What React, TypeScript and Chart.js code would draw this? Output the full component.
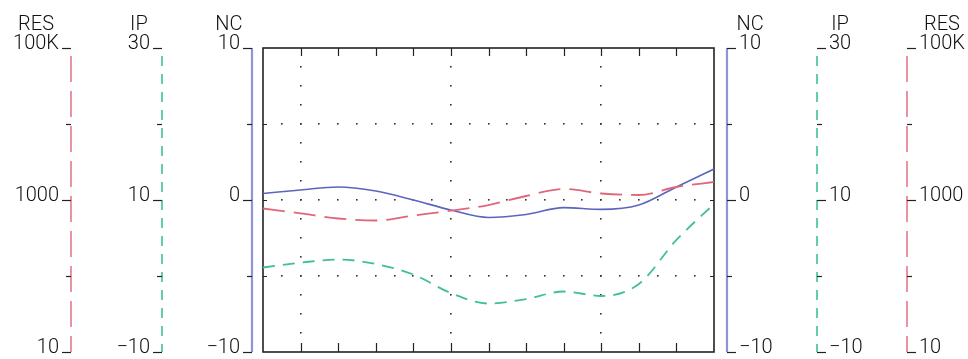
import React, { useEffect, useRef } from 'react';
import { Chart, registerables } from 'chart.js';

Chart.register(...registerables);

// Station positions along the profile (tick marks along the top/bottom border)
const stations = [0, 1, 2, 3, 4, 5, 6, 7, 8, 9, 10, 11, 12];
const gridStations = [1, 5, 9];

// Series values
const ncValues = [0.43, 0.66, 0.86, 0.59, 0.0, -0.66, -1.15, -0.95, -0.5, -0.62, -0.33, 0.86, 2.04];
const resValues = [773, 668, 571, 537, 625, 723, 859, 1129, 1396, 1218, 1164, 1483, 1726];
const ipValues = [1.12, 1.75, 2.17, 1.58, 0.2, -2.24, -3.62, -3.03, -2.04, -2.63, -1.05, 4.74, 9.47];

// Axis ticks and labels
const resTicks = [10, 100, 1000, 10000, 100000];
const resTickLabels = ['10', '', '1000', '', '100K'];
const ipTicks = [-10, 0, 10, 20, 30];
const ipTickLabels = ['\u221210', '', '10', '', '30'];
const ncTicks = [-10, -5, 0, 5, 10];
const ncTickLabels = ['\u221210', '', '0', '', '10'];
const ncGridValues = [-5, 0, 5];

const RES_COLOR = '#e0677a';
const IP_COLOR = '#3fc28e';
const NC_COLOR = '#5a66bd';
const NC_AXIS_COLOR = '#8e94d4';
const FONT = '300 20px Roboto, "Liberation Sans", Arial, sans-serif';

type SideAxis = {
  x: number;
  side: 'left' | 'right';
  scaleId: string;
  ticks: number[];
  labels: string[];
  title: string;
  color: string;
  dash: number[];
  width: number;
};

const sideAxes: SideAxis[] = [
  { x: 71, side: 'left', scaleId: 'yRes', ticks: resTicks, labels: resTickLabels, title: 'RES', color: RES_COLOR, dash: [26, 9], width: 1.4 },
  { x: 162, side: 'left', scaleId: 'yIp', ticks: ipTicks, labels: ipTickLabels, title: 'IP', color: IP_COLOR, dash: [10, 8], width: 1.6 },
  { x: 252, side: 'left', scaleId: 'yNc', ticks: ncTicks, labels: ncTickLabels, title: 'NC', color: NC_AXIS_COLOR, dash: [], width: 2.2 },
  { x: 727, side: 'right', scaleId: 'yNc', ticks: ncTicks, labels: ncTickLabels, title: 'NC', color: NC_AXIS_COLOR, dash: [], width: 2.2 },
  { x: 817, side: 'right', scaleId: 'yIp', ticks: ipTicks, labels: ipTickLabels, title: 'IP', color: IP_COLOR, dash: [10, 8], width: 1.6 },
  { x: 907, side: 'right', scaleId: 'yRes', ticks: resTicks, labels: resTickLabels, title: 'RES', color: RES_COLOR, dash: [26, 9], width: 1.4 },
];

function drawSideAxis(chart: any, a: SideAxis) {
  const ctx: CanvasRenderingContext2D = chart.ctx;
  const scale = chart.scales[a.scaleId];
  const { top, bottom } = chart.chartArea;
  const dir = a.side === 'left' ? -1 : 1;
  ctx.save();
  ctx.strokeStyle = a.color;
  ctx.lineWidth = a.width;
  ctx.setLineDash(a.dash);
  ctx.lineDashOffset = a.dash.length ? -8 : 0;
  ctx.beginPath();
  ctx.moveTo(a.x, top);
  ctx.lineTo(a.x, bottom);
  ctx.stroke();
  ctx.setLineDash([]);

  ctx.strokeStyle = '#222';
  ctx.lineWidth = 1.2;
  ctx.fillStyle = '#111';
  ctx.font = FONT;
  let titleX = a.x;
  a.ticks.forEach((t, i) => {
    const y = Math.round(scale.getPixelForValue(t)) + 0.5;
    const lab = a.labels[i];
    const len = lab ? 9 : 5;
    ctx.beginPath();
    ctx.moveTo(a.x, y);
    ctx.lineTo(a.x + dir * len, y);
    ctx.stroke();
    if (lab) {
      ctx.textAlign = a.side === 'left' ? 'right' : 'left';
      ctx.textBaseline = 'alphabetic';
      const tx = a.x + dir * 12;
      ctx.fillText(lab, tx, y + 0.5);
      if (i === a.ticks.length - 1) {
        const w = ctx.measureText(lab).width;
        titleX = a.side === 'left' ? tx - w / 2 : tx + w / 2;
      }
    }
  });
  ctx.textAlign = 'center';
  ctx.textBaseline = 'alphabetic';
  ctx.fillText(a.title, titleX, top - 18);
  ctx.restore();
}

const framePlugin = {
  id: 'frame',
  beforeDatasetsDraw(chart: any) {
    const ctx: CanvasRenderingContext2D = chart.ctx;
    const { left, right, top, bottom } = chart.chartArea;
    const xs = chart.scales.x;
    const yNc = chart.scales.yNc;
    ctx.save();
    ctx.fillStyle = '#333';
    // horizontal dotted grid lines
    ncGridValues.forEach((v) => {
      const y = Math.round(yNc.getPixelForValue(v));
      for (let j = 1; j < stations.length * 2 - 2; j++) {
        const x = Math.round(xs.getPixelForValue(j / 2));
        ctx.fillRect(x - 1, y - 1, 1.6, 1.6);
      }
    });
    // vertical dotted grid lines
    gridStations.forEach((s) => {
      const x = Math.round(xs.getPixelForValue(s));
      for (let j = 1; j < 16; j++) {
        const y = Math.round(yNc.getPixelForValue(10 - j * 1.25));
        ctx.fillRect(x - 1, y - 1, 1.6, 1.6);
      }
    });
    // border
    ctx.strokeStyle = '#222';
    ctx.lineWidth = 1.6;
    ctx.strokeRect(left, top, right - left, bottom - top);
    // station ticks
    ctx.lineWidth = 1.2;
    ctx.beginPath();
    stations.slice(1, -1).forEach((s) => {
      const x = Math.round(xs.getPixelForValue(s)) + 0.5;
      ctx.moveTo(x, top);
      ctx.lineTo(x, top + 8);
      ctx.moveTo(x, bottom);
      ctx.lineTo(x, bottom - 9);
    });
    ncGridValues.forEach((v) => {
      const y = Math.round(yNc.getPixelForValue(v)) + 0.5;
      ctx.moveTo(left, y);
      ctx.lineTo(left + 4, y);
      ctx.moveTo(right, y);
      ctx.lineTo(right - 4, y);
    });
    ctx.stroke();
    ctx.restore();
  },
  afterDraw(chart: any) {
    sideAxes.forEach((a) => drawSideAxis(chart, a));
  },
};

export default function App() {
  const canvasRef = useRef<HTMLCanvasElement | null>(null);

  useEffect(() => {
    const canvas = canvasRef.current;
    if (!canvas) return;
    const toPoints = (vals: number[]) => vals.map((v, i) => ({ x: stations[i], y: v }));
    const chart = new Chart(canvas, {
      type: 'line',
      data: {
        datasets: [
          {
            label: 'RES',
            data: toPoints(resValues),
            yAxisID: 'yRes',
            borderColor: RES_COLOR,
            borderWidth: 1.8,
            borderDash: [22, 9],
            pointRadius: 0,
            cubicInterpolationMode: 'monotone',
            fill: false,
          },
          {
            label: 'IP',
            data: toPoints(ipValues),
            yAxisID: 'yIp',
            borderColor: IP_COLOR,
            borderWidth: 1.8,
            borderDash: [12, 8],
            pointRadius: 0,
            cubicInterpolationMode: 'monotone',
            fill: false,
          },
          {
            label: 'NC',
            data: toPoints(ncValues),
            yAxisID: 'yNc',
            borderColor: NC_COLOR,
            borderWidth: 1.6,
            pointRadius: 0,
            cubicInterpolationMode: 'monotone',
            fill: false,
          },
        ],
      },
      options: {
        responsive: false,
        animation: false,
        devicePixelRatio: 1,
        layout: { padding: { left: 263, right: 254, top: 48, bottom: 7 } },
        plugins: { legend: { display: false }, tooltip: { enabled: false } },
        scales: {
          x: { type: 'linear', min: 0, max: 12, display: false },
          yRes: { type: 'logarithmic', min: 10, max: 100000, display: false },
          yIp: { type: 'linear', min: -10, max: 30, display: false },
          yNc: { type: 'linear', min: -10, max: 10, display: false },
        },
      },
      plugins: [framePlugin],
    } as any);
    return () => chart.destroy();
  }, []);

  return (
    <div style={{ position: 'fixed', left: 0, top: 0, width: 968, height: 359, background: '#fff' }}>
      <canvas ref={canvasRef} width={968} height={359} style={{ display: 'block', width: 968, height: 359 }} />
    </div>
  );
}
